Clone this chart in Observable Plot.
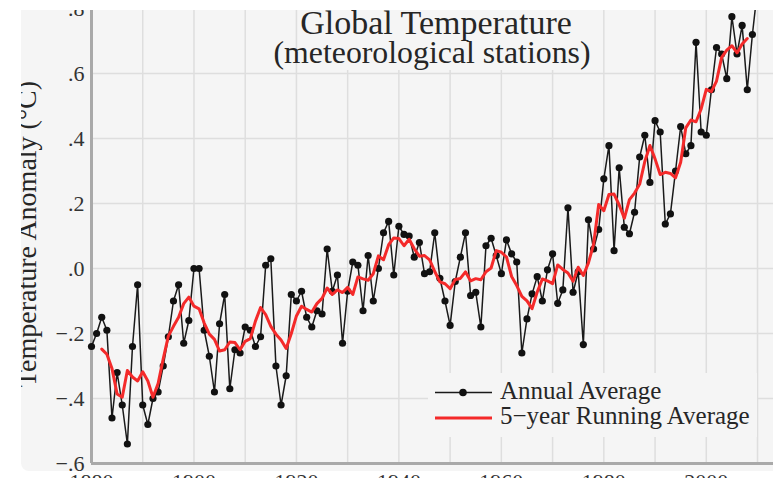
<!DOCTYPE html>
<html><head><meta charset="utf-8">
<script src="https://cdn.jsdelivr.net/npm/d3@7"></script>
<script src="https://cdn.jsdelivr.net/npm/@observablehq/plot@0.6"></script>
<style>
html,body{margin:0;padding:0;background:#fff;}
#wrap{position:absolute;left:21px;top:10px;width:752px;height:468px;overflow:hidden;}
#panel{position:absolute;left:0;top:0;width:752px;height:461px;background:#f5f5f5;border-bottom-left-radius:8px;}
#chart{position:absolute;left:-21px;top:-10px;}
</style></head><body>
<div id="wrap"><div id="panel"></div><div id="chart"></div></div>
<script>
// ---- data ----
const firstYear = 1880;
const anomaly = [
 -0.24,-0.20,-0.15,-0.19,-0.46,-0.32,-0.42,-0.54,-0.24,-0.05, // 1880s
 -0.42,-0.48,-0.40,-0.38,-0.30,-0.21,-0.10,-0.05,-0.23,-0.16, // 1890s
  0.00, 0.00,-0.19,-0.27,-0.38,-0.17,-0.08,-0.37,-0.25,-0.26, // 1900s
 -0.18,-0.19,-0.24,-0.21, 0.01, 0.03,-0.30,-0.42,-0.33,-0.08, // 1910s
 -0.10,-0.07,-0.15,-0.18,-0.13,-0.14, 0.06,-0.07,-0.02,-0.23, // 1920s
 -0.07, 0.02, 0.01,-0.13, 0.04,-0.10, 0.00, 0.11, 0.145,-0.02, // 1930s
  0.13, 0.105,0.10, 0.035,0.08,-0.016,-0.01,0.11,-0.03,-0.10, // 1940s
 -0.175,-0.04,0.035,0.11,-0.083,-0.073,-0.18,0.07,0.093,0.04, // 1950s
 -0.016,0.088,0.045,0.02,-0.26,-0.155,-0.078,-0.025,-0.10,-0.004, // 1960s
  0.045,-0.107,-0.066,0.187,-0.073,-0.01,-0.234,0.15,0.06,0.12, // 1970s
  0.276,0.378,0.055,0.31,0.127,0.107,0.173,0.343,0.41,0.265, // 1980s
  0.455,0.42,0.137,0.168,0.30,0.437,0.353,0.378,0.696,0.42,  // 1990s
  0.41,0.55,0.68,0.66,0.584,0.775,0.66,0.748,0.55,0.72,      // 2000s
  0.86                                                        // 2010
];
const years = anomaly.map((_, i) => firstYear + i);
const yTicks = [-0.6,-0.4,-0.2,0,0.2,0.4,0.6,0.8];
const xTickLabels = [1880,1900,1920,1940,1960,1980,2000];
const xGridYears = [1890,1900,1910,1920,1930,1940,1950,1960,1970,1980,1990,2000,2010];
const titleText = "Global Temperature";
const subtitleText = "(meteorological stations)";
const yLabelText = "Temperature Anomaly (°C)";
const legendLabels = ["Annual Average", "5\u2212year Running Average"];

const data = years.map((year, i) => ({year, value: anomaly[i]}));
const fmt = d => d === 0 ? ".0" : (d < 0 ? "\u2212" : "") + "." + Math.round(Math.abs(d) * 10);
const serif = "'Liberation Serif','Times New Roman',serif";
const ink = "#262626";

const plot = Plot.plot({
  width: 773, height: 500,
  marginLeft: 91, marginRight: 0, marginTop: 8, marginBottom: 37,
  x: {domain: [1880, 2013.12]},
  y: {domain: [-0.6, 0.8]},
  style: {background: "transparent", fontFamily: serif, color: "#333", overflow: "visible"},
  marks: [
    Plot.gridX(xGridYears, {stroke: "#dedede", strokeOpacity: 1, strokeWidth: 1.5}),
    Plot.gridY(yTicks.slice(1), {stroke: "#dedede", strokeOpacity: 1, strokeWidth: 1.5}),
    Plot.ruleX([1880], {stroke: "#a9a9a9", strokeWidth: 3}),
    Plot.ruleY([-0.6], {stroke: "#a9a9a9", strokeWidth: 3}),
    Plot.axisY(yTicks, {tickSize: 0, tickPadding: 7, fontSize: 22, tickFormat: fmt, label: null}),
    Plot.axisX(xTickLabels, {tickSize: 0, tickPadding: 10, fontSize: 22, tickFormat: d => String(d), label: null}),
    Plot.line(data, {x: "year", y: "value", stroke: "#1a1a1a", strokeWidth: 1.5}),
    Plot.dot(data, {x: "year", y: "value", r: 3.6, fill: "#111"}),
    Plot.line(data, Plot.windowY({k: 5, anchor: "middle", strict: true},
      {x: "year", y: "value", stroke: "#f42a2a", strokeWidth: 3}))
  ]
});

const svg = d3.select(plot);
// title block
svg.append("rect").attr("x", 298).attr("y", 0).attr("width", 296).attr("height", 70).attr("fill", "#f5f5f5");
svg.append("text").attr("x", 436).attr("y", 34).attr("text-anchor", "middle")
  .attr("font-size", 34).attr("font-family", serif).attr("fill", ink).text(titleText);
svg.append("text").attr("x", 432).attr("y", 63).attr("text-anchor", "middle")
  .attr("font-size", 31.8).attr("font-family", serif).attr("fill", ink).text(subtitleText);
// y label (cut by the panel edge, as in the reference)
svg.append("text").attr("transform", "translate(36,234) rotate(-90)").attr("text-anchor", "middle")
  .attr("font-size", 28).attr("font-family", serif).attr("fill", ink).text(yLabelText);
// legend
const lg = svg.append("g").attr("text-anchor", "start");
lg.append("rect").attr("x", 428).attr("y", 373).attr("width", 329).attr("height", 64).attr("fill", "#f5f5f5");
lg.append("line").attr("x1", 435).attr("x2", 492).attr("y1", 392.5).attr("y2", 392.5).attr("stroke", "#1a1a1a").attr("stroke-width", 1.6);
lg.append("circle").attr("cx", 463).attr("cy", 392.5).attr("r", 3.8).attr("fill", "#111");
lg.append("line").attr("x1", 435).attr("x2", 492).attr("y1", 418).attr("y2", 418).attr("stroke", "#f42a2a").attr("stroke-width", 3);
lg.append("text").attr("x", 500).attr("y", 399).attr("text-anchor", "start").attr("font-size", 25).attr("font-family", serif).attr("fill", ink).text(legendLabels[0]);
lg.append("text").attr("x", 500).attr("y", 424).attr("text-anchor", "start").attr("font-size", 25).attr("font-family", serif).attr("fill", ink).text(legendLabels[1]);

document.getElementById("chart").appendChild(plot);
</script>
</body></html>
